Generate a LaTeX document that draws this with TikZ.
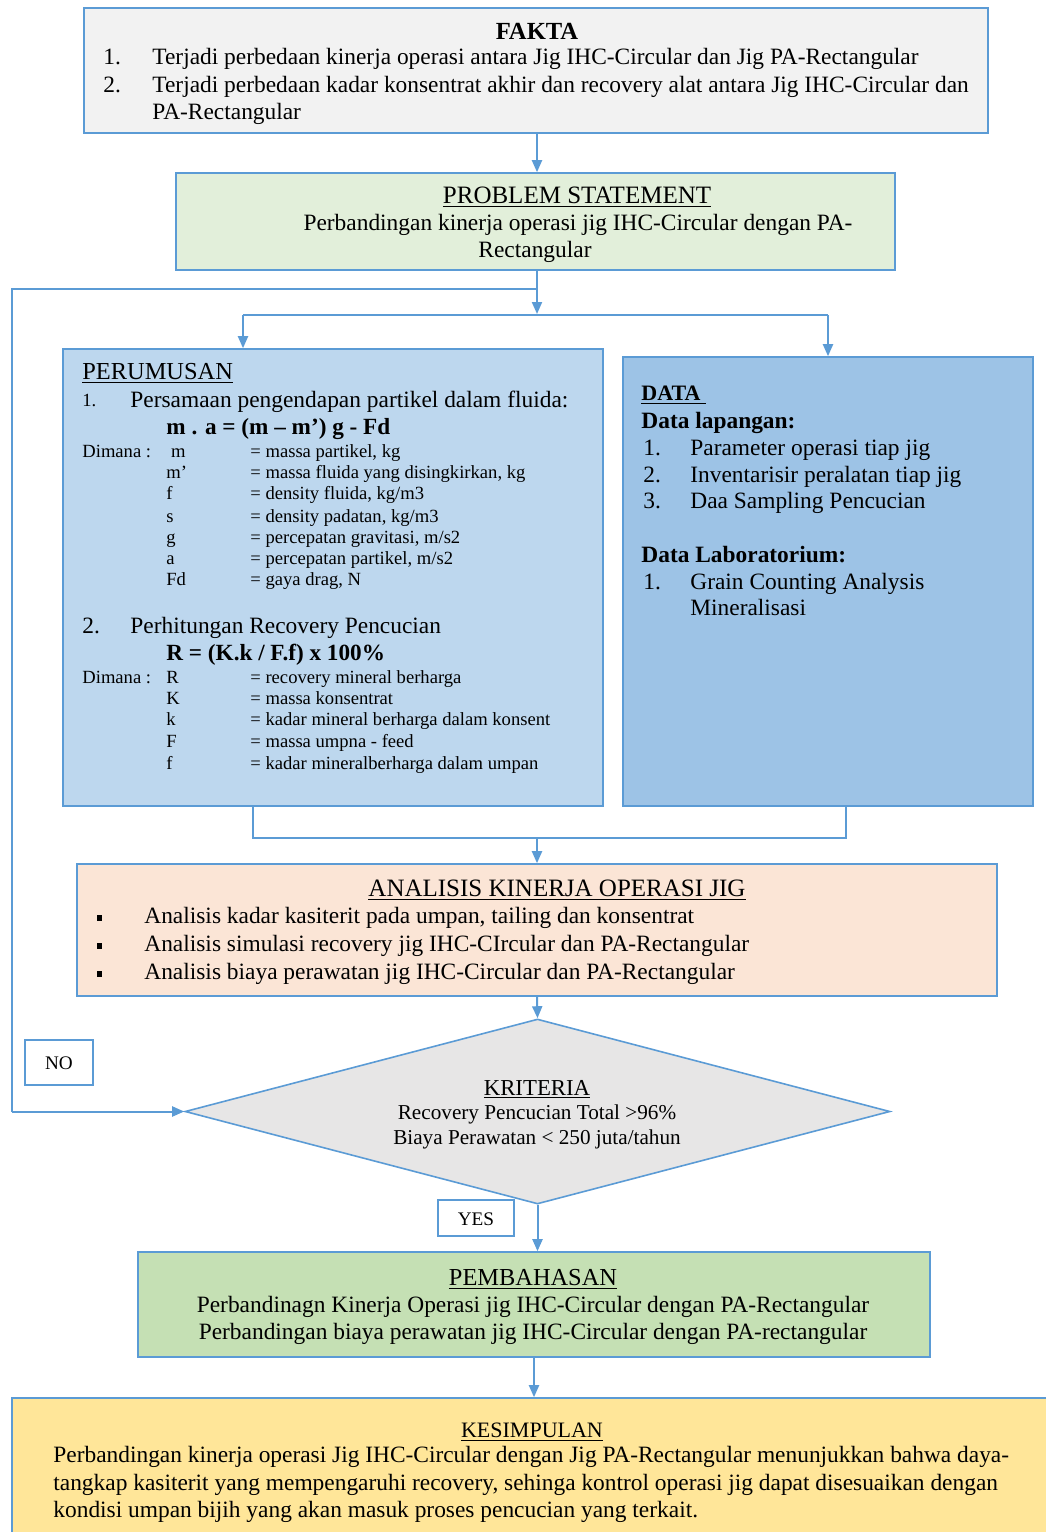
\documentclass[tikz,border=0pt]{standalone}
\usepackage{fontspec}
\setmainfont{Liberation Serif}
\usepackage{xcolor}
\usetikzlibrary{positioning,arrows.meta,shapes.geometric,calc}

\definecolor{lineblue}{HTML}{5B9BD5}
\definecolor{faktafill}{HTML}{F2F2F2}
\definecolor{probfill}{HTML}{E2EFDA}
\definecolor{rumusfill}{HTML}{BDD7EE}
\definecolor{datafill}{HTML}{9DC3E6}
\definecolor{analisfill}{HTML}{FBE5D6}
\definecolor{kritfill}{HTML}{E7E6E6}
\definecolor{pembfill}{HTML}{C5E0B4}
\definecolor{kesimfill}{HTML}{FFE699}

\newcommand{\fs}[1]{\fontsize{#1}{#1}\selectfont}

\begin{document}
\begin{tikzpicture}[x=0.5pt,y=-0.5pt,
    box/.style={draw=lineblue,line width=0.8pt,inner sep=0pt},
    txt/.style={inner sep=0pt,yshift=-1pt,text height=8pt,text depth=2.5pt,font=\fs{11.7}},
    lt/.style={txt,anchor=west},
    sm/.style={inner sep=0pt,anchor=west,yshift=-1pt,text height=6.5pt,text depth=2pt,font=\fs{9.3}},
    dm/.style={inner sep=0pt,yshift=-1pt,text height=7pt,text depth=2pt,font=\fs{10.6}},
    eq/.style={inner sep=0pt,anchor=west,yshift=-1pt,text height=8.5pt,text depth=2.5pt,font=\fs{11.6}\bfseries},
    wire/.style={draw=lineblue,line width=1pt},
    arr/.style={wire,-{Triangle[width=5pt,length=6pt]}}]
    \useasboundingbox (0,0) rectangle (1045,1532);

    % boxes
    \node[box,fill=faktafill,minimum width=452pt,minimum height=62.5pt] (fakta) at (536,70.5) {};
    \node[box,fill=probfill,minimum width=359.5pt,minimum height=48.5pt] (prob) at (535.5,221.5) {};
    \node[box,fill=rumusfill,minimum width=270pt,minimum height=228.5pt] (rumus) at (333,577.5) {};
    \node[box,fill=datafill,minimum width=205pt,minimum height=224.5pt] (data) at (828,581.5) {};
    \node[box,fill=analisfill,minimum width=460pt,minimum height=66pt] (analisis) at (537,930) {};
    \node[box,fill=kritfill,diamond,minimum width=352.5pt,minimum height=92.5pt] (kriteria) at (537.5,1111.5) {};
    \node[box,fill=white,minimum width=34pt,minimum height=22.5pt] (no) at (59,1062.5) {};
    \node[box,fill=white,minimum width=38pt,minimum height=18pt] (yes) at (476,1218) {};
    \node[box,fill=pembfill,minimum width=396pt,minimum height=52.5pt] (pemb) at (534,1304.5) {};
    \node[box,fill=kesimfill,minimum width=520pt,minimum height=72pt] (kesim) at (532,1470) {};

    % FAKTA
    \node[txt,font=\fs{12.3}\bfseries] (faktaT) at (537,32) {FAKTA};
    \node[lt] (fakta1n) at (103,57) {1.};
    \node[lt] (fakta1) at (152,57) {Terjadi perbedaan kinerja operasi antara Jig IHC-Circular dan Jig PA-Rectangular};
    \node[lt] (fakta2n) at (103,85) {2.};
    \node[lt] (fakta2) at (152,85) {Terjadi perbedaan kadar konsentrat akhir dan recovery alat antara Jig IHC-Circular dan};
    \node[lt] (fakta2b) at (152,112) {PA-Rectangular};

    % problem statement
    \node[txt,font=\fs{12.5}] (probT) at (577,196) {\underline{PROBLEM STATEMENT}};
    \node[txt] (prob1) at (578,223) {Perbandingan kinerja operasi jig IHC-Circular dengan PA-};
    \node[txt] (prob2) at (535,250) {Rectangular};

    % perumusan
    \node[lt,font=\fs{12.2}] (rumusT) at (82,372) {\underline{PERUMUSAN}};
    \node[sm] (rumus1n) at (82,400) {1.};
    \node[lt] (rumus1) at (130,400) {Persamaan pengendapan partikel dalam fluida:};
    \node[eq] (rumusEq1) at (166,426) {m . a = (m -- m’) g - Fd};
    \node[sm] (dim1) at (82,451) {Dimana :};
    \foreach \y/\s/\d [count=\i] in {451/\ m/{massa partikel, kg},
        472/m’/{massa fluida yang disingkirkan, kg},
        493/f/{density fluida, kg/m3},
        516/s/{density padatan, kg/m3},
        537/g/{percepatan gravitasi, m/s2},
        558/a/{percepatan partikel, m/s2},
        579/Fd/{gaya drag, N}}{
        \node[sm] (symA\i) at (166,\y) {\s};
        \node[sm] (defA\i) at (250,\y) {= \d};
    }
    \node[lt] (rumus2n) at (82,626) {2.};
    \node[lt] (rumus2) at (130,626) {Perhitungan Recovery Pencucian};
    \node[eq] (rumusEq2) at (166,652) {R = (K.k / F.f) x 100\%};
    \node[sm] (dim2) at (82,677) {Dimana :};
    \foreach \y/\s/\d [count=\i] in {677/R/recovery mineral berharga,
        698/K/massa konsentrat,
        719/k/kadar mineral berharga dalam konsent,
        741/F/massa umpna - feed,
        763/f/kadar mineralberharga dalam umpan}{
        \node[sm] (symB\i) at (166,\y) {\s};
        \node[sm] (defB\i) at (250,\y) {= \d};
    }

    % data
    \node[lt,font=\fs{11}] (dataT) at (641,393) {\underline{\textbf{DATA }}};
    \node[lt] (dataLap) at (641,421) {\textbf{Data lapangan:}};
    \foreach \y/\n/\t in {448/1./Parameter operasi tiap jig,
        475/2./Inventarisir peralatan tiap jig,
        501/3./Daa Sampling Pencucian}{
        \node[lt] (dataN\y) at (643,\y) {\n};
        \node[lt] (dataL\y) at (690,\y) {\t};
    }
    \node[lt] (dataLab) at (641,555) {\textbf{Data Laboratorium:}};
    \node[lt] (dataN582) at (643,582) {1.};
    \node[lt] (dataL582) at (690,582) {Grain Counting Analysis};
    \node[lt] (dataL608) at (690,608) {Mineralisasi};

    % analisis
    \node[txt,font=\fs{12.5}] (analisisT) at (557,889) {\underline{ANALISIS KINERJA OPERASI JIG}};
    \foreach \y/\t in {916/{Analisis kadar kasiterit pada umpan, tailing dan konsentrat},
        944/{Analisis simulasi recovery jig IHC-CIrcular dan PA-Rectangular},
        972/{Analisis biaya perawatan jig IHC-Circular dan PA-Rectangular}}{
        \node[lt] (bul\y) at (97,\y) {\raisebox{1.5pt}{\rule{2.5pt}{3pt}}};
        \node[lt] (ana\y) at (144,\y) {\t};
    }

    % kriteria
    \node[dm,font=\fs{11.4}] (kritT) at (537,1088) {\underline{KRITERIA}};
    \node[dm] (krit1) at (537,1112) {Recovery Pencucian Total >96\%};
    \node[dm] (krit2) at (537,1137) {Biaya Perawatan < 250 juta/tahun};
    \node[dm,font=\fs{9.6}] (noT) at (no) {NO};
    \node[dm,font=\fs{9.6}] (yesT) at (yes) {YES};

    % pembahasan
    \node[txt,font=\fs{12.2}] (pembT) at (533,1278) {\underline{PEMBAHASAN}};
    \node[txt] (pemb1) at (533,1305) {Perbandinagn Kinerja Operasi jig IHC-Circular dengan PA-Rectangular};
    \node[txt] (pemb2) at (533,1332) {Perbandingan biaya perawatan jig IHC-Circular dengan PA-rectangular};

    % kesimpulan
    \node[txt,font=\fs{11}] (kesimT) at (532,1430) {\underline{KESIMPULAN}};
    \node[lt] (kesim1) at (53,1455) {Perbandingan kinerja operasi Jig IHC-Circular dengan Jig PA-Rectangular menunjukkan bahwa daya-};
    \node[lt] (kesim2) at (53,1483) {tangkap kasiterit yang mempengaruhi recovery, sehinga kontrol operasi jig dapat disesuaikan dengan};
    \node[lt] (kesim3) at (53,1510) {kondisi umpan bijih yang akan masuk proses pencucian yang terkait.};

    % connectors
    \coordinate (loopR) at (537,289);
    \coordinate (loopL) at (12,289);
    \coordinate (splitM) at (537,314);
    \coordinate (splitL) at (243,315);
    \coordinate (splitR) at (828,315);
    \coordinate (mergeL) at (253,838);
    \coordinate (mergeM) at (537,838);
    \coordinate (mergeR) at (846,838);

    \draw[arr] (fakta.south -| prob.north) ++(1.5,0) coordinate (faktaOut) -- (faktaOut |- prob.north);
    \draw[arr] (prob.south -| splitM) -- (splitM);
    \draw[wire] (loopR) -- (loopL) -- (loopL |- kriteria.west);
    \draw[arr] (loopL |- kriteria.west) -- (kriteria.west);
    \draw[wire] (splitL) -- (splitR);
    \draw[arr] (splitL) -- (splitL |- rumus.north);
    \draw[arr] (splitR) -- (splitR |- data.north);
    \draw[wire] (mergeL |- rumus.south) -- (mergeL) -- (mergeR) -- (mergeR |- data.south);
    \draw[arr] (mergeM) -- (mergeM |- analisis.north);
    \draw[arr] (analisis.south) -- (kriteria.north);
    \draw[arr] (kriteria.south) -- (kriteria.south |- pemb.north);
    \draw[arr] (pemb.south) -- (pemb.south |- kesim.north);
\end{tikzpicture}
\end{document}
